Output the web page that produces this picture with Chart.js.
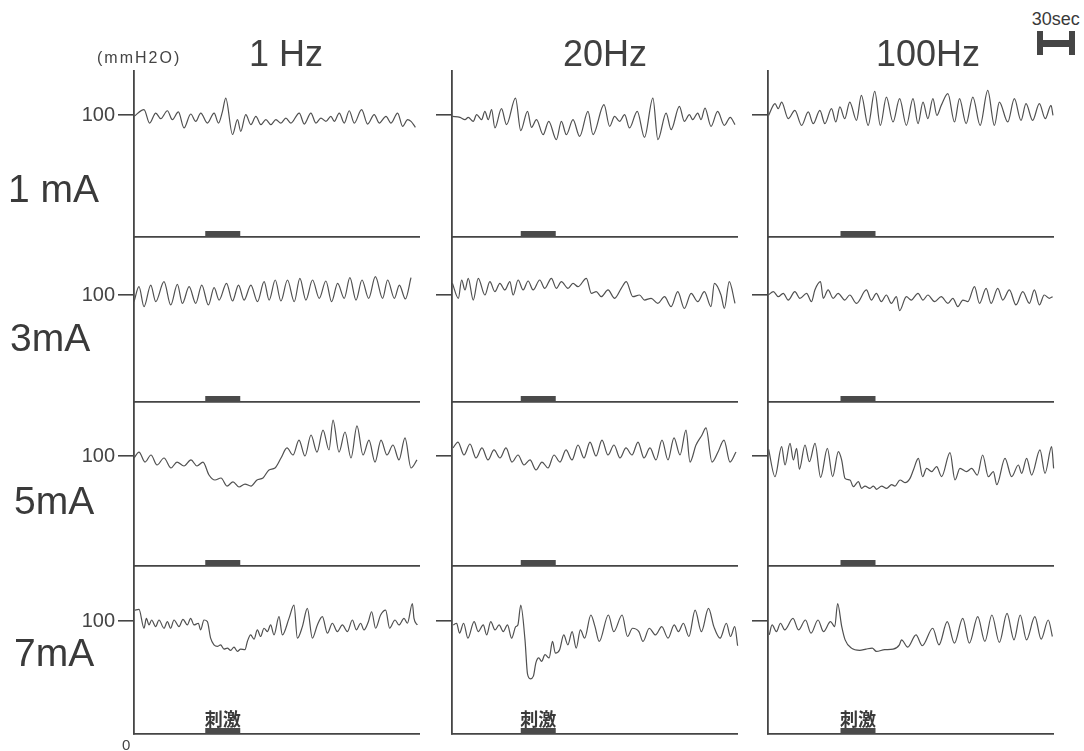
<!DOCTYPE html>
<html>
<head>
<meta charset="utf-8">
<script src="https://cdn.jsdelivr.net/npm/chart.js@4.4.1/dist/chart.umd.min.js"></script>
<style>
  body { margin: 0; background: #fff; width: 1084px; height: 751px; overflow: hidden; position: relative;
         font-family: "Liberation Sans", Arial, sans-serif; color: #3a3a3a; }
  canvas { position: absolute; }
  .lbl { position: absolute; white-space: nowrap; line-height: 1; }
</style>
</head>
<body>
<script>
// ---- categories / ticks ----
const currents = ['1 mA', '3mA', '5mA', '7mA'];
const freqs = ['1 Hz', '20Hz', '100Hz'];
const yTicks = [100];
const unitLabel = '(mmH2O)';
const stimText = '刺激';
const stimStart = [57, 55, 58];   // s, per frequency column
const stimEnd = [85, 83, 86];
const timeMax = 228;              // s shown in each panel
const scaleBarSec = 30;

// ---- traces: time (s) and pressure (mmH2O) ----
const t1mA_1Hz = [0,8,12.5,17.4,21.4,26.7,30.7,35.5,40,45.4,49.4,53.4,58.7,64.1,67.6,70.8,73.4,78.8,82.8,85.4,89.4,93.5,97.5,101.5,105.5,109.5,113.5,117.5,121.5,125.5,132.2,136.2,141.5,145.5,149.5,153.5,157.5,160.2,164.2,168.2,172.2,176.2,182.1,186.9,192.2,196.2,201.6,205.6,210.9,214.9,218.9,221.6,225.1];
const p1mA_1Hz = [98.9,104.4,93.4,101.6,97,103.5,96.2,102.5,89.4,100.8,94.8,101.6,93.4,101.6,93.4,103,113.9,84,96.2,86.6,100.3,92.1,98.9,92.1,96.2,92.1,96.2,93.4,97.5,93.4,101.6,92.6,101.6,93.4,97.5,94.8,98.9,94.8,101.6,93.4,103.5,93.4,104.4,92.6,100.3,93.4,98.9,93.4,101.6,90.7,96.2,94.8,89.9];

const t1mA_20Hz = [0.3,6.4,10.4,13,17,19.7,23.7,26.3,29,31.7,34.3,39.6,43.6,50.8,55,60.4,63.6,67.6,72.9,77.4,83.5,87.5,91.5,96.8,102.1,108.8,112.8,121.6,126.1,130.1,134.1,138.1,142,148.2,154,160.7,164.7,171.3,175.3,181.9,185.9,189.9,192.6,196.6,199.2,202.4,207.2,212.5,217.9,222.6,226.4];
const p1mA_20Hz = [98.9,98.1,96.2,98.1,94.8,100.3,96.2,103,96.2,104.4,89.4,105.2,92.1,113.9,87.2,103,89.9,96.2,83.9,94.8,79.8,94.8,83.9,96.2,82.5,103,83.9,108.5,90.7,98.9,94.8,100.3,89.4,103,81.7,113.9,79.8,101.6,88,107.1,94.8,100.3,96.2,101.6,96.2,105.7,90.7,103,91.5,98.1,92.1];

const t1mA_100Hz = [0.5,5.6,8.2,10.9,16.2,21.5,26.9,32.2,36.2,41.5,45.5,50.8,54.3,57.5,61.4,65.4,70.8,74.7,80.1,85.4,89.9,94.7,100,105.3,110.7,116,120,124,127.9,131.9,135.1,138.6,143.9,149.2,153.2,158.5,163.9,169.7,175.8,181.1,185.1,191.8,197.1,202.4,206.4,211.7,217.1,221.8,226.4,228];
const p1mA_100Hz = [99.7,109.3,105.2,110.6,97,103.8,91.5,102.5,92.9,103.8,92.9,105.2,94.3,106.6,97,110.6,95.6,116.1,91.5,119.4,91.5,114.7,94.3,113.4,91.5,113.4,92.9,110.6,97,113.4,99.7,107.9,117.5,94.3,113.4,92.9,114.7,91.5,120.2,91.5,110.6,94.3,113.4,95.6,109.3,95.6,109.3,97,107.9,99.7];

const t3mA_1Hz = [0,4,8,13.4,17.4,24,29.4,34.7,38.7,44.1,49.4,54.2,59.5,64.1,68.1,74,78.8,83.6,88.1,93.5,98.8,104.1,108.1,113,117.5,122.8,128.2,132.7,137.5,142.8,148.2,153.5,158.1,162.9,168.2,172.7,177.6,182.4,187.7,193.1,198.9,202.9,208.3,212.3,217.1,221.6];
const p3mA_1Hz = [93.8,107.8,89.1,109.3,93.8,112.5,90.7,110,92.2,107.8,92.2,109.3,90.7,106.9,95.3,110.9,94.4,109.3,95.3,109.3,93.8,112.5,95.3,114,94.4,114,93.8,115.6,95.3,114,96.9,113.1,93.8,110.9,96.9,116.2,95.3,114,96.9,117.1,96.9,114,96.9,109.3,96.3,116.2];

const t3mA_20Hz = [0.3,5.1,7.7,10.4,13,17,21,26.3,30.3,34.3,38.3,42.3,46.3,48.9,52.9,56.9,60.9,64.9,70.2,74.2,79.5,83.5,87.5,92.8,96.8,100.8,107.5,111.5,115.4,119.4,124.8,130.1,135.4,139.4,144.7,150,154,159.3,164.7,170,175.3,180.6,185.9,191.3,196.6,201.9,207.2,209.9,215.2,217.9,221.8,226.4];
const p3mA_20Hz = [110.9,96.9,114,104.7,115.6,95.3,115.6,100,112.5,103.1,110.9,104.7,112.5,100,114,104.7,113.1,104.7,114,106.2,115.6,106.2,112.5,106.2,110.9,107.8,115.6,101.6,103.1,98.4,104.7,96.9,106.2,112.5,98.4,100,95.3,96.9,92.2,98.4,89.1,103.1,87.5,101.6,93.8,103.1,89.1,110.9,100,87.5,112.5,92.2];

const t3mA_100Hz = [0.3,4.3,8.2,12.2,16.2,21.5,25.5,30.9,34.8,37.5,42,44.2,48.1,52.1,56.1,61.4,65.4,70.8,78.7,82.7,86.7,90.7,94.7,98.7,102.7,105.3,110.7,114.6,120,124,127.9,133.3,138.6,143.9,147.9,151.9,155.9,159.9,165.2,169.2,174.5,178.5,183.8,187.8,193.1,198.4,203.8,209.1,213.1,217.1,221,225,227.7];
const p3mA_100Hz = [100,103.1,98.4,101.6,95.3,103.1,96.9,101.6,93.8,104.7,112.5,96.9,104.7,96.9,101.6,95.3,100,92.2,104.7,95.3,101.6,93.8,100,92.2,98.4,85.4,98.4,95.3,101.6,95.3,100,93.8,98.4,92.2,96.9,89.1,95.3,93.8,107.8,92.2,106.2,92.2,106.2,95.3,104.7,90.7,103.1,92.2,104.7,90.7,100,96.9,98.4];

const t5mA_1Hz = [0,4,8.8,13.6,18.4,24,29.6,34.4,40,45.6,50.4,55.2,60,64.8,69.6,74.4,79.2,84,88.8,93.6,98.4,103.2,108,112.8,117.6,122.4,127.2,132,136.8,141.6,146.4,151.2,156,159.2,164,168.8,173.6,178.4,183.2,188,192.8,197.6,202.4,207.2,212,216.8,221.6,226.4];
const p5mA_1Hz = [98.2,103.6,94.5,100.9,91.8,98.2,89.1,94.5,90.9,96.4,90.9,94.5,82.7,78.2,80,72.7,76.4,71.8,74.5,72.7,78.2,80,87.3,89.1,98.2,107.3,100.9,114.5,100,119.1,103.6,123.6,105.5,132.7,103.6,121.8,98.2,127.3,100.9,114.5,94.5,114.5,100.9,110,96.4,116.4,89.1,96.4];

const t5mA_20Hz = [0.8,4.8,9.6,14.4,19.2,24,28.8,33.6,38.4,43.2,48,52.8,57.6,62.4,67.2,72,76.8,81.6,86.4,91.2,96,100.8,105.6,110.4,115.2,120,124.8,129.6,134.4,139.2,144,148.8,153.6,158.4,163.2,168,172.8,177.6,182.4,187.2,190.4,195.2,200,203.2,208,212.8,217.6,222.4,227.2];
const p5mA_20Hz = [107.3,112.7,100.9,110.9,98.2,107.3,96.4,105.5,98.2,107.3,94.5,100.9,91.8,96.4,87.3,94.5,89.1,100.9,94.5,105.5,96.4,110,98.2,112.7,100,114.5,100.9,110,98.2,107.3,100.9,112.7,98.2,107.3,96.4,114.5,96.4,116.4,100.9,123.6,94.5,110,119.1,125.5,94.5,103.6,114.5,94.5,103.6];

const t5mA_100Hz = [0.5,5.6,10.9,13.6,17.6,20.3,22.9,25.1,29.6,33.1,37.6,42.1,47.5,51.7,56.3,58.9,61.6,65.6,68.3,72.3,74.9,77.6,81.6,84.3,86.9,90.9,94.9,98.9,101.6,105.6,109.6,113.6,116.3,120.3,123.7,126.9,130.9,134.9,138.9,145.6,149.6,153.6,158.9,162.9,167.5,171.7,176.3,180.3,183,189.6,194.9,200.3,202.9,206.9,210.9,217.6,221.6,226.9,228.5];
const p5mA_100Hz = [106,81.2,108.5,91.8,111.5,96.4,107,87.9,110,94.8,111.5,80.6,107,81.2,103.9,96.4,79.7,78.2,72.1,76.7,70.6,72.7,70.6,72.7,69.7,72.7,70.6,73.9,72.7,78.2,75.8,79.7,87.3,97.9,81.2,88.8,85.8,90.3,81.2,103,78.2,88.8,85.8,88.8,82.7,100.9,81.2,85.8,73.9,97.9,81.2,91.8,84.2,97.9,82.7,105.5,84.2,108.5,88.8];

const t7mA_1Hz = [0.5,4,8,9.9,12,14.1,17.3,20,24,26.7,29.3,32,36,39.2,42.7,45.3,48,51.5,53.3,56,58.7,61.3,64,66.7,69.3,72,74.7,77.3,80,82.7,85.3,88.8,90.7,93.3,96,98.7,101.3,104,106.7,109.3,112,116,118.7,124,128,130.7,134.7,138.7,142.7,146.7,150.7,154.7,158.7,162.7,166.7,170.7,174.7,177.9,181.3,184,187.5,190.1,193.3,197.3,201.3,204.5,208.8,212,216,218.7,222.7,224,226.7];
const p7mA_1Hz = [109.6,110.2,93.6,102.3,96.5,100.9,95,100.9,93.6,99.4,93.6,100.9,95,101.5,96.5,102.3,96.5,98,92.1,100.9,99.4,84.8,78.9,77.5,78.9,75.1,76,74,76.9,73.1,75.1,74.6,81.9,87.7,83.9,92.1,86.3,93.6,90.6,96.5,87.7,103.8,87.7,102.3,114,84.8,95,111.1,84.8,96.5,103.8,89.2,98,90.6,96.5,90.6,100.9,92.1,98,92.1,99.4,108.2,93.6,105.3,109.6,93.6,100.9,96.5,102.3,98,115.5,102.3,96.5];

const t7mA_20Hz = [1,3.7,6,9.3,12.7,17.7,21,25,27.7,31,34.4,37.7,41,44.4,47.7,51,52.7,55,58.4,60.4,62.7,65.1,67.1,69.4,71.7,74.4,77.7,80.4,82.7,86.1,89.4,92.7,96.1,99.4,102.7,106.1,111.1,114.4,117.8,125.1,129.4,136.1,140.4,144.4,149.5,152.8,157.8,162.8,167.8,172.8,177.8,181.1,185.1,189.5,194.5,199.5,205.2,209.5,214.5,219.5,222.8,226.2,228.5];
const p7mA_20Hz = [96.5,98,89.2,98,84.8,99.4,90.6,96.5,87.7,99.4,92.1,96.5,90.6,96.5,84.8,95,96.5,114,83.3,53.2,48.8,51.2,62.9,67.3,64.3,70.2,67.3,81.9,71.6,74.6,87.7,78.9,90.6,76,92.1,84.8,105.3,95,81.9,105.3,90.6,105.3,86.3,93.6,90.6,81.9,93.6,87.7,95,84.8,96.5,90.6,98,86.3,109.6,90.6,111.1,95,84.8,98,86.3,95,78.1];

const t7mA_100Hz = [1,3.3,6.7,10,13.3,20,24.4,30,34.4,40,44.4,50,53.4,55.7,59,61.7,66.7,73.4,78.4,83.4,86.7,93.4,100.1,105.1,106.8,111.8,118.4,123.4,131.8,136.8,143.4,149.1,155.8,161.1,167.8,173.5,179.1,185.1,191.2,196.8,201.8,206.8,213.5,218.5,224.2,227.5];
const p7mA_100Hz = [87.7,96.5,90.6,98,92.1,102.3,92.1,100.9,89.2,100.9,90.6,99.4,95,115.5,95,83.3,76,74,75.1,76,73.1,74.6,75.1,78.9,83.3,76.9,87.7,78.1,93.6,78.9,99.4,80.4,102.3,80.4,103.8,81.9,105.3,81,106.7,83.3,105.3,83.3,103.8,83.9,100.9,86.3];

const traces = [
  [[t1mA_1Hz, p1mA_1Hz], [t1mA_20Hz, p1mA_20Hz], [t1mA_100Hz, p1mA_100Hz]],
  [[t3mA_1Hz, p3mA_1Hz], [t3mA_20Hz, p3mA_20Hz], [t3mA_100Hz, p3mA_100Hz]],
  [[t5mA_1Hz, p5mA_1Hz], [t5mA_20Hz, p5mA_20Hz], [t5mA_100Hz, p5mA_100Hz]],
  [[t7mA_1Hz, p7mA_1Hz], [t7mA_20Hz, p7mA_20Hz], [t7mA_100Hz, p7mA_100Hz]]
];

// ---- layout (px) ----
const colX = [134, 452, 768];          // vertical axis of each column
const plotW = 285;
const rowTop = [70, 237, 402, 566];
const rowBase = [237, 402, 566, 734];  // zero line of each row
const row100 = [115, 295, 456, 621];   // where 100 mmH2O sits
const AXW = 60, PADR = 6, XAH = 10;
const INK = '#454545';

function addText(txt, x, baseline, size, extra) {
  const d = document.createElement('div');
  d.className = 'lbl';
  d.textContent = txt;
  d.style.fontSize = size + 'px';
  d.style.left = x + 'px';
  d.style.top = (baseline - 0.8465 * size) + 'px';
  Object.assign(d.style, extra || {});
  document.body.appendChild(d);
  return d;
}

// label over the stimulus bar, bottom row only
const stimLabel = c => ({
  id: 'stimLabel',
  afterDatasetsDraw(chart) {
    const { ctx, chartArea } = chart;
    const x = chart.scales.x;
    ctx.save();
    ctx.font = 'bold 18px "Noto Sans CJK JP"';
    ctx.fillStyle = '#3a3a3a';
    ctx.textAlign = 'center';
    ctx.textBaseline = 'bottom';
    ctx.fillText(stimText, x.getPixelForValue((stimStart[c] + stimEnd[c]) / 2), chartArea.bottom - 6);
    ctx.restore();
  }
});

const charts = [];
currents.forEach((cur, r) => {
  freqs.forEach((fq, c) => {
    const h = rowBase[r] - rowTop[r];
    const cv = document.createElement('canvas');
    cv.width = AXW + plotW + PADR;
    cv.height = h + XAH;
    cv.style.left = (colX[c] - AXW) + 'px';
    cv.style.top = rowTop[r] + 'px';
    document.body.appendChild(cv);

    const yMax = 100 * h / (rowBase[r] - row100[r]);
    const [tt, pp] = traces[r][c];

    charts.push(new Chart(cv, {
      type: 'line',
      data: {
        datasets: [
          {
            data: tt.map((x, i) => ({ x, y: pp[i] })),
            borderColor: '#505050',
            borderWidth: 1.2,
            pointRadius: 0,
            cubicInterpolationMode: 'monotone',
            clip: false
          },
          {
            data: [{ x: stimStart[c], y: 0 }, { x: stimEnd[c], y: 0 }],
            borderColor: '#4a4a4a',
            borderWidth: 12,
            borderCapStyle: 'butt',
            pointRadius: 0,
            clip: 0
          }
        ]
      },
      options: {
        responsive: false,
        animation: false,
        devicePixelRatio: 1,
        events: [],
        layout: { padding: { left: 0, right: PADR, top: 0, bottom: 0 } },
        plugins: { legend: { display: false }, tooltip: { enabled: false } },
        scales: {
          x: {
            type: 'linear', min: 0, max: timeMax,
            ticks: { display: false },
            grid: { display: false },
            border: { color: INK, width: 1.8 },
            afterFit: s => { s.height = XAH; }
          },
          y: {
            min: 0, max: yMax,
            afterBuildTicks: s => { s.ticks = yTicks.map(v => ({ value: v })); },
            ticks: {
              callback: v => (c === 0 ? String(v) : ''),
              color: '#444',
              font: { family: 'Liberation Sans', size: 20 },
              padding: 3
            },
            grid: { drawOnChartArea: false, tickLength: 16, color: INK, lineWidth: 1.6 },
            border: { color: INK, width: 1.8 },
            afterFit: s => { s.width = AXW; s.paddingTop = 0; s.paddingBottom = 0; }
          }
        }
      },
      plugins: r === currents.length - 1 ? [stimLabel(c)] : []
    }));
  });
});

// ---- titles and labels ----
const titleCX = [286, 605, 928];
freqs.forEach((f, c) => addText(f, titleCX[c], 66, 36, { transform: 'translateX(-50%)', color: '#404040' }));
const rowLabelX = [8, 10, 14, 14];
const rowLabelBase = [202, 351, 514, 666];
currents.forEach((m, r) => addText(m, rowLabelX[r], rowLabelBase[r], 39, { color: '#3a3a3a' }));
addText(unitLabel, 97, 64, 16, { letterSpacing: '2px', color: '#444' });
addText('0', 122, 750, 15, { color: '#444' });

// ---- 30 s scale bar, sized from the x scale ----
const xs = charts[2].scales.x;
const barW = xs.getPixelForValue(scaleBarSec) - xs.getPixelForValue(0);
const sb = document.createElement('div');
sb.style.cssText = `position:absolute;left:1037px;top:31px;width:${barW}px;height:24px;`;
sb.innerHTML =
  `<div style="position:absolute;left:0;top:0;width:6px;height:24px;background:${INK}"></div>` +
  `<div style="position:absolute;right:0;top:0;width:6px;height:24px;background:${INK}"></div>` +
  `<div style="position:absolute;left:0;right:0;top:9px;height:7px;background:${INK}"></div>`;
document.body.appendChild(sb);
addText(scaleBarSec + 'sec', 1037 + barW / 2, 25, 18, { transform: 'translateX(-50%)', color: '#3a3a3a' });
</script>
</body>
</html>
